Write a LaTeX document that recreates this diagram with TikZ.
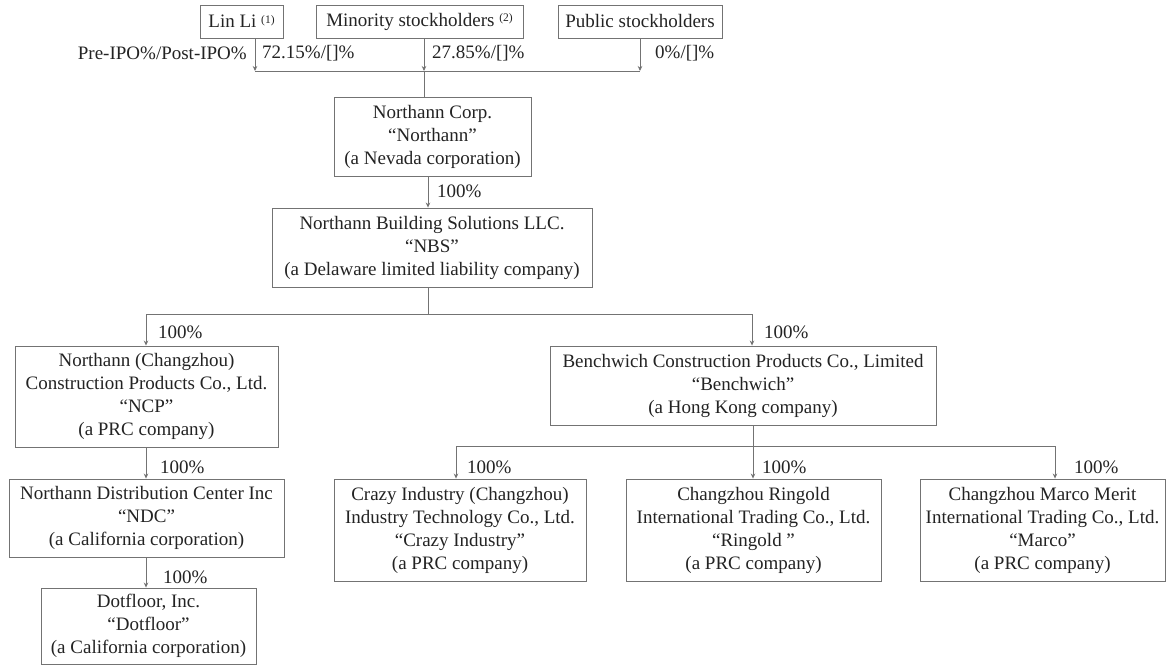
\documentclass[tikz,border=0pt]{standalone}
\usepackage{fontspec}
\setmainfont{Liberation Serif}
\usetikzlibrary{arrows.meta}
\definecolor{linecol}{RGB}{115,115,115}
\definecolor{textcol}{RGB}{35,35,35}
\begin{document}
\begin{tikzpicture}[x=1pt,y=-1pt,
  every node/.style={font=\fontsize{19}{23}\selectfont, text=textcol},
  box/.style={draw=linecol, line width=0.9pt, align=center, inner sep=1pt},
  arr/.style={draw=linecol, line width=0.9pt, -{Stealth[length=5pt,width=4.5pt,fill=textcol]}},
  ln/.style={draw=linecol, line width=0.9pt},
  pct/.style={anchor=west, inner sep=0pt}
]
\useasboundingbox (0,0) rectangle (1166,666);
% top boxes
\node[box, minimum width=83, minimum height=33] (linli) at (241.5,21.5) {Lin Li \raisebox{0.5ex}{\fontsize{11.5}{13}\selectfont (1)}};
\node[box, minimum width=207, minimum height=33] (minor) at (419.5,21.5) {Minority stockholders \raisebox{0.5ex}{\fontsize{11.5}{13}\selectfont (2)}};
\node[box, minimum width=164, minimum height=33] (public) at (640,21.5) {Public stockholders};
\coordinate (ja) at (255,71);
\coordinate (jb) at (424,71);
\coordinate (jc) at (640,71);
\draw[arr] (linli.south -| ja) -- (ja);
\draw[arr] (minor.south -| jb) -- (jb);
\draw[arr] (public.south -| jc) -- (jc);
\draw[ln] (ja) -- (jc);
\node[anchor=east, inner sep=0pt] (prepost) at (247,53) {Pre-IPO\%/Post-IPO\%};
\node[pct] (p1) at (262,53) {72.15\%/[]\%};
\node[pct] (p2) at (432,53) {27.85\%/[]\%};
\node[pct] (p3) at (655,53) {0\%/[]\%};
% Northann
\node[box, minimum width=197, minimum height=79] (northann) at (432.5,136.5) {Northann Corp.\\“Northann”\\(a Nevada corporation)};
\draw[ln] (jb) -- (jb |- northann.north);
% NBS
\node[box, minimum width=320, minimum height=79] (nbs) at (432,247.5) {Northann Building Solutions LLC.\\“NBS”\\(a Delaware limited liability company)};
\coordinate (t1) at (428,0);
\draw[arr] (northann.south -| t1) -- (nbs.north -| t1);
\node[pct] (l1) at (437,191) {100\%};
% second level
\node[box, minimum width=263, minimum height=101] (ncp) at (146.5,396.5) {Northann (Changzhou)\\Construction Products Co., Ltd.\\“NCP”\\(a PRC company)};
\node[box, minimum width=386, minimum height=79] (bench) at (743,385.5) {Benchwich Construction Products Co., Limited\\“Benchwich”\\(a Hong Kong company)};
\coordinate (h2) at (428,314);
\coordinate (h2l) at (146,314);
\coordinate (h2r) at (752,314);
\draw[ln] (nbs.south -| h2) -- (h2);
\draw[ln] (h2l) -- (h2r);
\draw[arr] (h2l) -- (ncp.north -| h2l);
\draw[arr] (h2r) -- (bench.north -| h2r);
\node[pct] (l2) at (158,332) {100\%};
\node[pct] (l3) at (764,332) {100\%};
% left chain
\node[box, minimum width=275, minimum height=78] (ndc) at (146.5,518) {Northann Distribution Center Inc\\“NDC”\\(a California corporation)};
\node[box, minimum width=215, minimum height=76] (dot) at (148.5,626) {Dotfloor, Inc.\\“Dotfloor”\\(a California corporation)};
\draw[arr] (ncp.south -| h2l) -- (ndc.north -| h2l);
\draw[arr] (ndc.south -| h2l) -- (dot.north -| h2l);
\node[pct] (l4) at (160,467) {100\%};
\node[pct] (l5) at (163,577) {100\%};
% Benchwich children
\node[box, minimum width=252, minimum height=102] (crazy) at (460,530) {Crazy Industry (Changzhou)\\Industry Technology Co., Ltd.\\“Crazy Industry”\\(a PRC company)};
\node[box, minimum width=255, minimum height=102] (ring) at (753.5,530) {Changzhou Ringold\\International Trading Co., Ltd.\\“Ringold ”\\(a PRC company)};
\node[box, minimum width=245, minimum height=102] (marco) at (1042.5,530) {Changzhou Marco Merit\\International Trading Co., Ltd.\\“Marco”\\(a PRC company)};
\coordinate (h3l) at (456,446);
\coordinate (h3m) at (753,446);
\coordinate (h3r) at (1055,446);
\draw[ln] (bench.south -| h3m) -- (h3m);
\draw[ln] (h3l) -- (h3r);
\draw[arr] (h3l) -- (crazy.north -| h3l);
\draw[arr] (h3m) -- (ring.north -| h3m);
\draw[arr] (h3r) -- (marco.north -| h3r);
\node[pct] (l6) at (467,467) {100\%};
\node[pct] (l7) at (762,467) {100\%};
\node[pct] (l8) at (1074,467) {100\%};
\end{tikzpicture}
\end{document}
